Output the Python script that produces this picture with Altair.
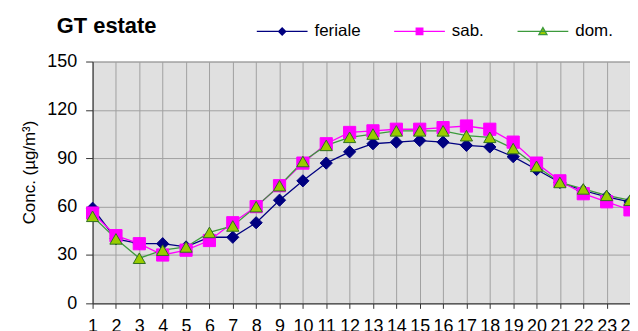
import altair as alt
import pandas as pd

hours = list(range(1, 25))
series_names = ["feriale", "sab.", "dom."]
feriale = [59, 40, 37, 37, 35, 41, 41, 50, 64, 76, 87, 94, 99, 100, 101, 100, 98, 97, 91, 83, 75, 70, 66, 63]
sab = [56, 42, 37, 30, 33, 39, 50, 60, 73, 87, 99, 106, 107, 108, 108, 109, 110, 108, 100, 87, 76, 68, 63, 58]
dom = [54, 40, 28, 33, 35, 44, 48, 60, 73, 88, 98, 103, 105, 107, 107, 107, 104, 103, 96, 85, 75, 71, 67, 64]

line_colors = ["#000080", "#ff00ff", "#3c9a3c"]
fill_colors = ["#000080", "#ff00ff", "#99cc00"]
stroke_colors = ["#000080", "#ff00ff", "#2f6f1f"]
marker_shapes = ["diamond", "square", "triangle-up"]
legend_shapes = [
    "M-1,0H1M0,-0.14L0.14,0L0,0.14L-0.14,0Z",
    "M-1,0H1M-0.13,-0.13H0.13V0.13H-0.13Z",
    "M-1,0H1M0,-0.15L0.16,0.13H-0.16Z",
]

rows = []
for name, vals in zip(series_names, [feriale, sab, dom]):
    for h, v in zip(hours, vals):
        rows.append({"ora": h, "conc": v, "serie": name})
df = pd.DataFrame(rows)

FONT = "Liberation Sans"

x_enc = alt.X("ora:Q", scale=alt.Scale(domain=[1, 24], nice=False, zero=False),
              axis=alt.Axis(values=hours, title=None, grid=True, labelFontSize=18,
                            labelFont=FONT, labelColor="#000", tickSize=5, labelPadding=9,
                            labelOverlap=False, labelFlush=False, domainColor="#333",
                            tickColor="#333", gridColor="#a0a0a0", labelBound=False,
                            labelSeparation=0))
y_enc = alt.Y("conc:Q", scale=alt.Scale(domain=[0, 150], nice=False),
              axis=alt.Axis(values=[0, 30, 60, 90, 120, 150], title="Conc.  (µg/m³)",
                            grid=True, labelFontSize=18, labelFont=FONT, labelColor="#000",
                            tickSize=7, labelPadding=9, domainColor="#333", tickColor="#333",
                            gridColor="#a0a0a0", titleFont=FONT, titleFontSize=17,
                            titleFontWeight="normal", titleColor="#000", titleAngle=270,
                            titleX=-54, titleY=111, titleAlign="center", labelOverlap=False))

lines = alt.Chart(df).mark_line(strokeWidth=1.3).encode(
    x=x_enc, y=y_enc,
    color=alt.Color("serie:N", scale=alt.Scale(domain=series_names, range=line_colors), legend=None),
    detail="serie:N",
)

markers = alt.Chart(df).mark_point(filled=True, size=150, opacity=1, strokeWidth=1).encode(
    x=x_enc, y=y_enc,
    shape=alt.Shape("serie:N", scale=alt.Scale(domain=series_names, range=marker_shapes), legend=None),
    fill=alt.Fill("serie:N", scale=alt.Scale(domain=series_names, range=fill_colors), legend=None),
    stroke=alt.Stroke("serie:N", scale=alt.Scale(domain=series_names, range=stroke_colors), legend=None),
)

legend_layer = alt.Chart(df).mark_point(filled=True, opacity=0, size=1).encode(
    x=x_enc, y=y_enc,
    shape=alt.Shape("serie:N", scale=alt.Scale(domain=series_names, range=legend_shapes),
                    legend=alt.Legend(title=None, orient="none", direction="horizontal",
                                      legendX=164, legendY=-57, symbolSize=2601,
                                      symbolOpacity=1, symbolStrokeWidth=1.3,
                                      labelFont=FONT, labelFontSize=17, labelColor="#000",
                                      labelOffset=6, columnPadding=30, padding=0)),
    fill=alt.Fill("serie:N", scale=alt.Scale(domain=series_names, range=fill_colors), legend=None),
    stroke=alt.Stroke("serie:N", scale=alt.Scale(domain=series_names, range=line_colors), legend=None),
)

chart = alt.layer(lines, markers, legend_layer).resolve_scale(
    shape="independent", fill="independent", stroke="independent"
).properties(
    width=540, height=243,
    title=alt.TitleParams("GT estate", anchor="start", font=FONT, fontSize=22,
                          fontWeight="bold", color="#000", dx=-36, offset=0, dy=50,
                          frame="group", baseline="alphabetic"),
    autosize=alt.AutoSizeParams(type="none"),
    padding={"left": 85, "top": 53, "right": 0, "bottom": 30},
    background="white",
).configure_view(fill="#e0e0e0", stroke="#a0a0a0")

chart.save("out.html", embed_options={"renderer": "svg", "actions": False})
